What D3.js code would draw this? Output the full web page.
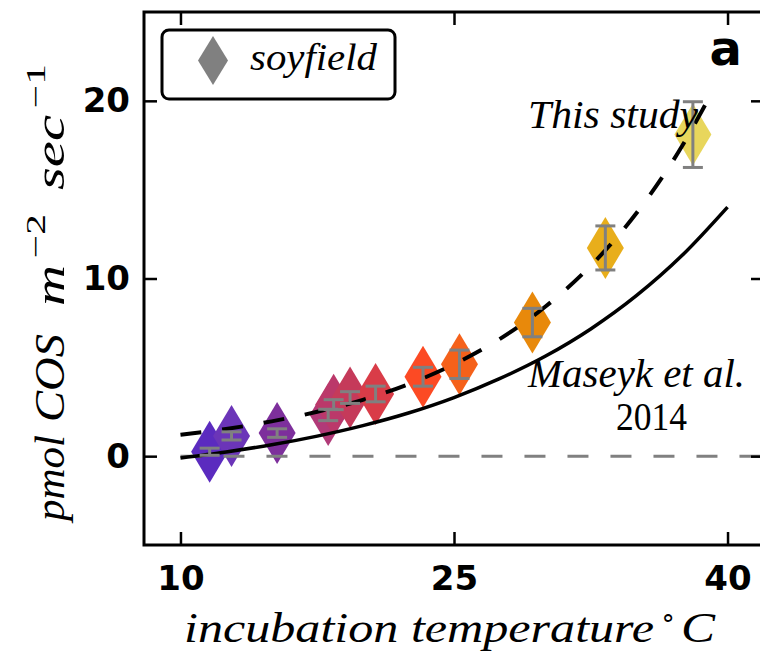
<!DOCTYPE html>
<html>
<head>
<meta charset="utf-8">
<script src="https://cdn.jsdelivr.net/npm/d3@7"></script>
<style>
  body { margin: 0; background: #fff; }
  svg { display: block; }
</style>
</head>
<body>
<svg id="chart" width="760" height="653"></svg>
<script>
// Soil COS uptake vs incubation temperature (soyfield incubations)
const temperature = [11.6, 12.8, 15.3, 18.1, 18.4, 19.3, 20.7, 23.3, 25.3, 29.3, 33.3, 38.1];
const cosFlux     = [0.25, 1.14, 1.30, 2.32, 2.90, 3.30, 3.50, 4.47, 5.17, 7.52, 11.72, 18.10];
const cosFluxErr  = [0.20, 0.23, 0.24, 0.32, 0.28, 0.33, 0.44, 0.53, 0.80, 0.80, 1.24, 1.85];
const pointColors = ["#5b2bbf", "#6b35b8", "#7d2f9c", "#b13a78", "#bb386a", "#c53a5a", "#d93c48",
                     "#fc4a24", "#f5611a", "#e8890b", "#e8ae1b", "#e8d65c"];

// fitted curve of these incubations ("This study")
const fitTemp  = [10, 12.5, 15, 17.5, 20, 22.5, 25, 27.5, 30, 32.5, 35, 37.5, 39];
const fitFlux  = [1.20, 1.53, 1.96, 2.50, 3.17, 4.05, 5.17, 6.59, 8.41, 10.72, 13.67, 17.44, 20.2];

// Maseyk et al. 2014 curve
const refTemp  = [10, 12.5, 15, 17.5, 20, 22.5, 25, 27.5, 30, 32.5, 35, 37.5, 40];
const refFlux  = [-0.10, 0.24, 0.64, 1.13, 1.72, 2.43, 3.30, 4.36, 5.62, 7.16, 9.03, 11.29, 14.02];

const xTicks = [10, 25, 40];
const yTicks = [0, 10, 20];
const xDomain = [8, 42];
const yDomain = [-5, 25];

const svg = d3.select("#chart");
const plotLeft = 144, plotRight = 764, plotTop = 12, plotBottom = 545;

const x = d3.scaleLinear().domain(xDomain).range([plotLeft, plotRight]);
const y = d3.scaleLinear().domain(yDomain).range([plotBottom, plotTop]);

const tickFont = "'DejaVu Sans', sans-serif";
const mathFont = "'Liberation Serif', serif";

// thin diamond marker path
const diamond = (w, h) => `M0,${-h / 2}L${w / 2},0L0,${h / 2}L${-w / 2},0Z`;

const pts = temperature.map((t, i) => ({ t, f: cosFlux[i], e: cosFluxErr[i], c: pointColors[i] }));

svg.append("g").selectAll("path")
  .data(pts).join("path")
  .attr("d", diamond(37, 62))
  .attr("transform", d => `translate(${x(d.t)},${y(d.f)})`)
  .attr("fill", d => d.c);

// zero reference line
svg.append("line")
  .attr("x1", x(10)).attr("x2", x(42))
  .attr("y1", y(0)).attr("y2", y(0))
  .attr("stroke", "#808080").attr("stroke-width", 3)
  .attr("stroke-dasharray", "21,22");

const line = d3.line().x(d => x(d[0])).y(d => y(d[1])).curve(d3.curveMonotoneX);

svg.append("path")
  .attr("d", line(refTemp.map((t, i) => [t, refFlux[i]])))
  .attr("fill", "none").attr("stroke", "#000").attr("stroke-width", 3.5);

svg.append("path")
  .attr("d", line(fitTemp.map((t, i) => [t, fitFlux[i]])))
  .attr("fill", "none").attr("stroke", "#000").attr("stroke-width", 4)
  .attr("stroke-dasharray", "21,21");

// error bars
const eb = svg.append("g").attr("stroke", "#808080").attr("stroke-width", 3);
pts.forEach(d => {
  const cx = x(d.t);
  eb.append("line").attr("x1", cx).attr("x2", cx).attr("y1", y(d.f - d.e)).attr("y2", y(d.f + d.e));
  [d.f - d.e, d.f + d.e].forEach(v => {
    eb.append("line").attr("x1", cx - 10).attr("x2", cx + 10).attr("y1", y(v)).attr("y2", y(v));
  });
});

// axes: inward ticks on all four sides, labels bottom and left
const styleAxis = g => {
  g.select(".domain").remove();
  g.selectAll(".tick line").attr("stroke", "#000").attr("stroke-width", 2.5);
  g.selectAll(".tick text")
    .attr("font-family", tickFont).attr("font-weight", "bold")
    .attr("font-size", 34).attr("fill", "#000");
};

svg.append("g").attr("transform", `translate(0,${plotBottom})`)
  .call(d3.axisBottom(x).tickValues(xTicks).tickSize(-13).tickPadding(21).tickFormat(d3.format("d")))
  .call(styleAxis);
svg.append("g").attr("transform", `translate(0,${plotTop})`)
  .call(d3.axisTop(x).tickValues(xTicks).tickSize(-13).tickFormat(""))
  .call(styleAxis);
svg.append("g").attr("transform", `translate(${plotLeft},0)`)
  .call(d3.axisLeft(y).tickValues(yTicks).tickSize(-13).tickPadding(14).tickFormat(d3.format("d")))
  .call(styleAxis);
svg.append("g").attr("transform", `translate(${plotRight},0)`)
  .call(d3.axisRight(y).tickValues(yTicks).tickSize(-13).tickFormat(""))
  .call(styleAxis);

// frame
svg.append("rect")
  .attr("x", plotLeft).attr("y", plotTop)
  .attr("width", plotRight - plotLeft).attr("height", plotBottom - plotTop)
  .attr("fill", "none").attr("stroke", "#000").attr("stroke-width", 3);

// legend
const lg = svg.append("g");
lg.append("rect").attr("x", 162).attr("y", 30).attr("width", 233).attr("height", 69).attr("rx", 7)
  .attr("fill", "#fff").attr("stroke", "#000").attr("stroke-width", 3);
lg.append("path").attr("d", diamond(30, 49)).attr("transform", "translate(213,60.5)").attr("fill", "#808080");
lg.append("text").attr("x", 250).attr("y", 70).attr("font-family", mathFont).attr("font-style", "italic")
  .attr("font-size", 38).attr("textLength", 127).attr("lengthAdjust", "spacingAndGlyphs").text("soyfield");

// panel letter
svg.append("text").attr("x", 742).attr("y", 65).attr("text-anchor", "end")
  .attr("font-family", tickFont).attr("font-weight", "bold").attr("font-size", 48).text("a");

// curve annotations
const ann = (tx, ty, len, s, italic) => svg.append("text")
  .attr("x", tx).attr("y", ty).attr("font-family", mathFont)
  .attr("font-style", italic ? "italic" : "normal").attr("font-size", 40)
  .attr("textLength", len).attr("lengthAdjust", "spacingAndGlyphs").text(s);
ann(528, 128, 170, "This study", true);
ann(528, 387, 217, "Maseyk et al.", true);
ann(616, 430, 71, "2014", false);

// x axis label
const xl = svg.append("g").attr("font-family", mathFont).attr("font-size", 42);
xl.append("text").attr("x", 184).attr("y", 642).attr("font-style", "italic")
  .attr("textLength", 470).attr("lengthAdjust", "spacingAndGlyphs").text("incubation temperature");
xl.append("text").attr("x", 660).attr("y", 626).attr("font-size", 26).text("\u2218");
xl.append("text").attr("x", 681).attr("y", 642).attr("font-style", "italic")
  .attr("textLength", 34).attr("lengthAdjust", "spacingAndGlyphs").text("C");

// y axis label (rotated; local x runs upward along the page)
const yl = svg.append("g").attr("transform", "translate(64,0) rotate(-90)")
  .attr("font-family", mathFont).attr("font-size", 42);
const yPiece = (y0, y1, s, italic, size, raise) => yl.append("text")
  .attr("x", -y0).attr("y", -raise)
  .attr("font-style", italic ? "italic" : "normal").attr("font-size", size)
  .attr("textLength", y0 - y1).attr("lengthAdjust", "spacingAndGlyphs").text(s);
yPiece(521, 435, "pmol", true, 42, 0);
yPiece(422, 334, "COS", true, 42, 0);
yPiece(306, 265, "m", true, 42, 0);
yPiece(258, 214, "\u22122", false, 28, 19);
yPiece(190, 115, "sec", true, 42, 0);
yPiece(108, 64, "\u22121", false, 28, 19);
</script>
</body>
</html>
